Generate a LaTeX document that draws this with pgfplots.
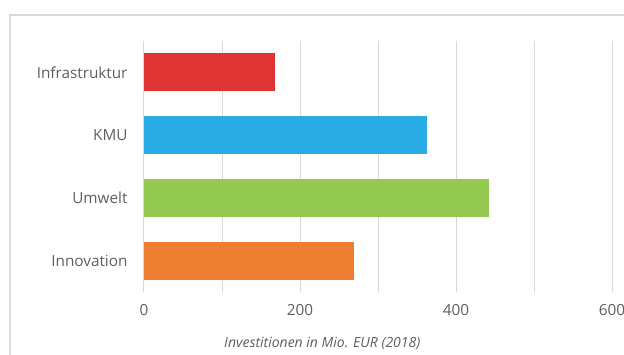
\documentclass[border=0pt]{standalone}
\usepackage{fontspec}
\setmainfont{Open Sans}
\usepackage{pgfplots}
\pgfplotsset{compat=1.18}
\definecolor{bordergray}{HTML}{D9D9D9}
\definecolor{gridgray}{HTML}{D9D9D9}
\definecolor{txtgray}{HTML}{5E5E5E}
\definecolor{cred}{HTML}{E03434}
\definecolor{cblue}{HTML}{29ACE3}
\definecolor{cgreen}{HTML}{94C952}
\definecolor{corange}{HTML}{ED7D31}
\begin{document}
\begin{tikzpicture}
\useasboundingbox (0,0) rectangle (624pt,354pt);
\draw[color=bordergray, line width=1.2pt] (10pt,-5pt) -- (10pt,339pt) -- (630pt,339pt);
\begin{axis}[
  at={(144pt,62pt)}, anchor=south west,
  scale only axis, width=468pt, height=251pt,
  xmin=0, xmax=600, ymin=-0.5, ymax=3.5,
  xtick={0,200,400,600}, minor xtick={100,300,500},
  xmajorgrids, xminorgrids,
  major grid style={gridgray, line width=1pt},
  minor grid style={gridgray, line width=1pt},
  ytick={0,1,2,3},
  yticklabels={Innovation,Umwelt,KMU,Infrastruktur},
  axis line style={draw=none},
  tick style={draw=none},
  /pgf/number format/assume math mode=true,
  ticklabel style={font=\fontsize{15.3}{17}\selectfont, text=txtgray},
  yticklabel style={xshift=-13pt},
  xticklabel style={yshift=-9pt},
  xlabel={Investitionen in Mio. EUR (2018)},
  xlabel style={at={(axis description cs:0.381,0)}, anchor=center, yshift=-51pt, font=\fontsize{14}{16}\selectfont\itshape, text=txtgray},
  clip=false,
]
\addplot[xbar, bar shift=0pt, bar width=38pt, fill=cred, draw=none] coordinates {(168,3)};
\addplot[xbar, bar shift=0pt, bar width=38pt, fill=cblue, draw=none] coordinates {(363,2)};
\addplot[xbar, bar shift=0pt, bar width=38pt, fill=cgreen, draw=none] coordinates {(442,1)};
\addplot[xbar, bar shift=0pt, bar width=38pt, fill=corange, draw=none] coordinates {(269,0)};
\end{axis}
\end{tikzpicture}
\end{document}
